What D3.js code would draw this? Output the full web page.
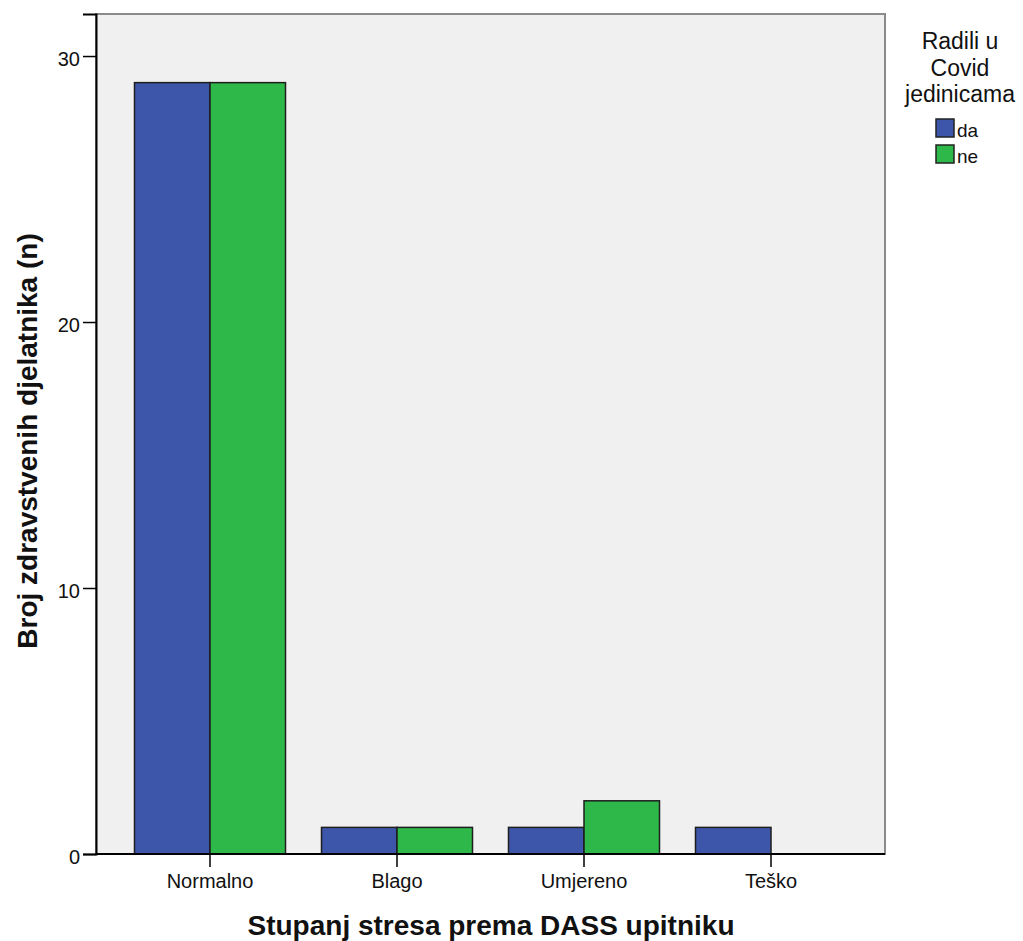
<!DOCTYPE html>
<html><head><meta charset="utf-8">
<script src="https://cdn.jsdelivr.net/npm/d3@7"></script>
<style>body{margin:0;background:#fff}svg{display:block}text{font-family:"Liberation Sans",Arial,sans-serif}</style>
</head><body>
<svg id="c" width="1023" height="941"></svg>
<script>
const categories = ["Normalno", "Blago", "Umjereno", "Teško"];
const seriesNames = ["da", "ne"];
const daValues = [29, 1, 1, 1];
const neValues = [29, 1, 2, 0];
const yTicks = [0, 10, 20, 30];
const legendTitle = ["Radili u", "Covid", "jedinicama"];
const colors = {da: "#3e56aa", ne: "#2fb84a"};

const svg = d3.select("#c");
const L = 96, R = 885, T = 14, B = 854;
const x = d3.scaleBand().domain(categories).range([116.5, 864.5]).padding(0);
const xs = d3.scaleBand().domain(seriesNames).range([18, x.bandwidth() - 18]).padding(0);
const y = d3.scaleLinear().domain([0, 31.58]).range([B, T]);

svg.append("rect").attr("x", L).attr("y", T).attr("width", R - L).attr("height", B - T)
  .attr("fill", "#f0f0f0").attr("stroke", "#8a8a8a").attr("stroke-width", 2);

const data = categories.map((c, i) => ({c, da: daValues[i], ne: neValues[i]}));
const g = svg.append("g");
data.forEach(d => {
  seriesNames.forEach(s => {
    if (d[s] > 0) {
      g.append("rect").attr("x", x(d.c) + xs(s)).attr("y", y(d[s]))
        .attr("width", xs.bandwidth()).attr("height", y(0) - y(d[s]))
        .attr("fill", colors[s]).attr("stroke", "#1e1e1e").attr("stroke-width", 1.5);
    }
  });
});

// axes
const ya = svg.append("g").attr("transform", `translate(${L},0)`)
  .call(d3.axisLeft(y).tickValues(yTicks).tickSize(13).tickPadding(3).tickFormat(d3.format("d")));
ya.select(".domain").attr("stroke", "#000").attr("stroke-width", 2);
ya.selectAll(".tick line").attr("stroke", "#000").attr("stroke-width", 1.5);
ya.selectAll(".tick text").attr("font-size", 20).attr("fill", "#111")
  .attr("font-family", "Liberation Sans, Arial, sans-serif").attr("dy", "0.45em");

const xa = svg.append("g").attr("transform", `translate(0,${B})`)
  .call(d3.axisBottom(x).tickSize(13).tickPadding(6));
const off = -x.bandwidth() / 2 + xs("ne");
xa.select(".domain").attr("d", `M${L},0H${R}`).attr("stroke", "#000").attr("stroke-width", 2);
xa.selectAll(".tick line").attr("stroke", "#000").attr("stroke-width", 1.5).attr("y1", 0).attr("y2", 13)
  .attr("x1", off).attr("x2", off);
xa.selectAll(".tick text").attr("font-size", 20).attr("fill", "#111")
  .attr("font-family", "Liberation Sans, Arial, sans-serif")
  .attr("x", off).attr("y", 34).attr("dy", 0);

// axis titles
svg.append("text").attr("x", 491).attr("y", 935).attr("text-anchor", "middle")
  .attr("font-size", 28).attr("font-weight", "bold").attr("fill", "#111").text("Stupanj stresa prema DASS upitniku");
svg.append("text").attr("transform", "translate(37,441) rotate(-90)").attr("text-anchor", "middle")
  .attr("font-size", 28).attr("font-weight", "bold").attr("fill", "#111").text("Broj zdravstvenih djelatnika (n)");

// legend
const lg = svg.append("g");
legendTitle.forEach((t, i) => {
  lg.append("text").attr("x", 960).attr("y", 49 + i * 26.5).attr("text-anchor", "middle")
    .attr("font-size", 23).attr("fill", "#111").text(t);
});
seriesNames.forEach((s, i) => {
  lg.append("rect").attr("x", 936).attr("y", 119 + i * 26).attr("width", 18).attr("height", 18)
    .attr("fill", colors[s]).attr("stroke", "#222").attr("stroke-width", 1.5);
  lg.append("text").attr("x", 957).attr("y", 137 + i * 26).attr("font-size", 19).attr("fill", "#111").text(s);
});
</script>
</body></html>
